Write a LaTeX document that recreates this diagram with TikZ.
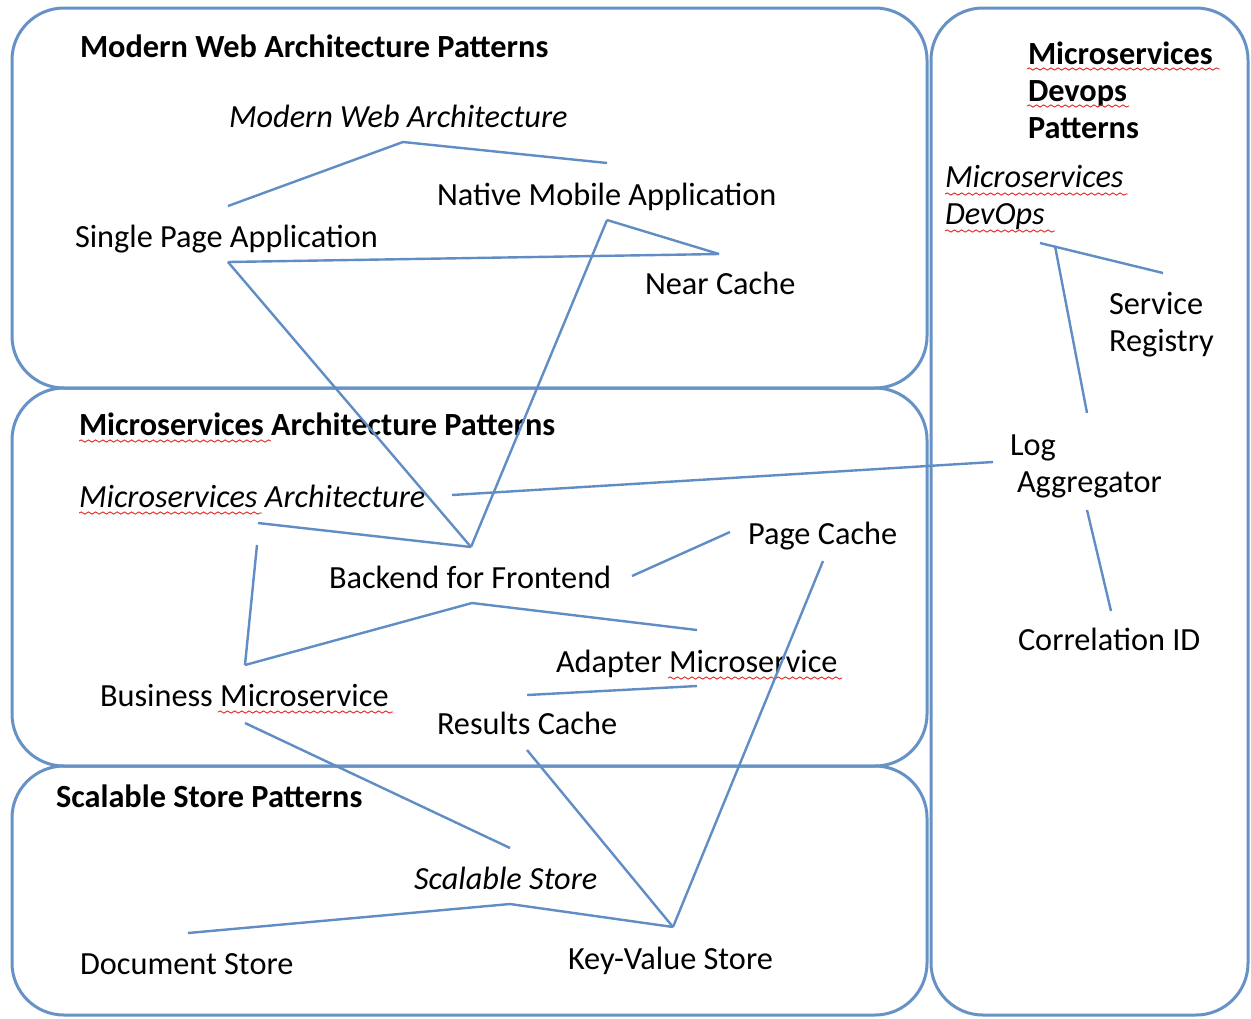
\documentclass[tikz,border=0pt]{standalone}
\usepackage{fontspec}
\setmainfont{Carlito}
\usetikzlibrary{decorations.pathmorphing}
\definecolor{frameblue}{RGB}{102,146,198}
\definecolor{linkblue}{RGB}{96,141,196}
\definecolor{spellred}{RGB}{228,40,40}
\tikzset{
  panel/.style={draw=frameblue, line width=1.5pt, rounded corners=26pt},
  link/.style={draw=linkblue, line width=1.2pt, line join=miter},
  lbl/.style={anchor=base west, inner sep=0pt, outer sep=0pt, align=left,
    font=\fontsize{16.15}{18.5}\selectfont},
  head/.style={lbl, font=\fontsize{16.15}{18.5}\selectfont\bfseries},
  topic/.style={lbl, font=\fontsize{16.15}{18.5}\selectfont\itshape},
  wavy/.style={draw=spellred, line width=0.45pt, decorate,
    decoration={snake, amplitude=0.55pt, segment length=3.6pt}}
}
\begin{document}
\begin{tikzpicture}[x=0.5pt, y=-0.5pt]
\useasboundingbox (0,0) rectangle (1251,1018);
\fill[white] (0,0) rectangle (1251,1018);

% pattern panels
\draw[panel] (12,8) rectangle (927,388);
\draw[panel] (12,388) rectangle (927,766);
\draw[panel] (12,766) rectangle (927,1015);
\draw[panel] (931,8) rectangle (1248,1015);

% labels: modern web
\node[head]  (mwp) at (80,57)  {Modern Web Architecture Patterns};
\node[topic] (mwa) at (229,127) {Modern Web Architecture};
\node[lbl]   (nma) at (437,205) {Native Mobile Application};
\node[lbl]   (spa) at (75,247)  {Single Page Application};
\node[lbl]   (nc)  at (645,294) {Near Cache};

% labels: microservices architecture
\node[head]  (msp) at (79,435)  {Microservices Architecture Patterns};
\node[topic] (msa) at (79,507)  {Microservices Architecture};
\node[lbl]   (bff) at (329,588) {Backend for Frontend};
\node[lbl]   (pc)  at (748,544) {Page Cache};
\node[lbl]   (am)  at (556,672) {Adapter Microservice};
\node[lbl]   (bm)  at (100,706) {Business Microservice};
\node[lbl]   (rc)  at (437,734) {Results Cache};

% labels: scalable store
\node[head]  (ssp) at (56,807)  {Scalable Store Patterns};
\node[topic] (ss)  at (414,889) {Scalable Store};
\node[lbl]   (ds)  at (80,974)  {Document Store};
\node[lbl]   (kv)  at (568,969) {Key-Value Store};

% labels: devops (base anchor sits on the last line)
\node[head]  (dvp) at (1028,138) {Microservices\\Devops\\Patterns};
\node[topic] (dvo) at (945,224)  {Microservices\\DevOps};
\node[lbl]   (sr)  at (1109,351) {Service\\Registry};
\node[lbl]   (la)  at (1010,492) {Log\\\hspace*{3.5pt}Aggregator};
\node[lbl]   (cid) at (1018,650) {Correlation ID};

% spelling marks
\draw[wavy] (1027,69) -- (1220,69);
\draw[wavy] (1027,106) -- (1129,106);
\draw[wavy] (945,194) -- (1128,194);
\draw[wavy] (945,231) -- (1055,231);
\draw[wavy] (79,441) -- (271,441);
\draw[wavy] (79,513) -- (262,513);
\draw[wavy] (218,712) -- (393,712);
\draw[wavy] (668,678) -- (842,678);

% connector end points
\coordinate (spa-up) at (228,206);
\coordinate (mwa-dn) at (403,142);
\coordinate (nma-up) at (607,163);
\coordinate (spa-dn) at (228,262);
\coordinate (nma-dn) at (607,220);
\coordinate (nc-up)  at (719,254);
\coordinate (bff-up) at (471,547);
\coordinate (msa-dn) at (258,523);
\coordinate (msa-rt) at (452,495);
\coordinate (la-lt)  at (993,462);
\coordinate (bff-rt) at (632,576);
\coordinate (pc-lt)  at (730,532);
\coordinate (msa-dl) at (257,545);
\coordinate (bm-up)  at (245,665);
\coordinate (bff-dn) at (472,603);
\coordinate (am-up)  at (697,630);
\coordinate (am-dn)  at (697,686);
\coordinate (rc-up)  at (527,695);
\coordinate (pc-dn)  at (823,561);
\coordinate (kv-up)  at (673,927);
\coordinate (rc-dn)  at (527,750);
\coordinate (bm-dn)  at (245,723);
\coordinate (ss-up)  at (510,848);
\coordinate (ss-dn)  at (510,904);
\coordinate (ds-up)  at (188,933);
\coordinate (dvo-lt) at (1040,243);
\coordinate (dvo-dn) at (1055,246);
\coordinate (sr-up)  at (1163,273);
\coordinate (la-up)  at (1087,413);
\coordinate (la-dn)  at (1087,510);
\coordinate (cid-up) at (1111,611);

% connectors
\draw[link] (spa-up) -- (mwa-dn) -- (nma-up);
\draw[link] (spa-dn) -- (nc-up);
\draw[link] (nma-dn) -- (nc-up);
\draw[link] (spa-dn) -- (bff-up);
\draw[link] (nma-dn) -- (bff-up);
\draw[link] (msa-dn) -- (bff-up);
\draw[link] (msa-rt) -- (la-lt);
\draw[link] (bff-rt) -- (pc-lt);
\draw[link] (msa-dl) -- (bm-up);
\draw[link] (bm-up) -- (bff-dn) -- (am-up);
\draw[link] (am-dn) -- (rc-up);
\draw[link] (pc-dn) -- (kv-up);
\draw[link] (rc-dn) -- (kv-up);
\draw[link] (bm-dn) -- (ss-up);
\draw[link] (ds-up) -- (ss-dn) -- (kv-up);
\draw[link] (dvo-lt) -- (sr-up);
\draw[link] (dvo-dn) -- (la-up);
\draw[link] (la-dn) -- (cid-up);
\end{tikzpicture}
\end{document}
